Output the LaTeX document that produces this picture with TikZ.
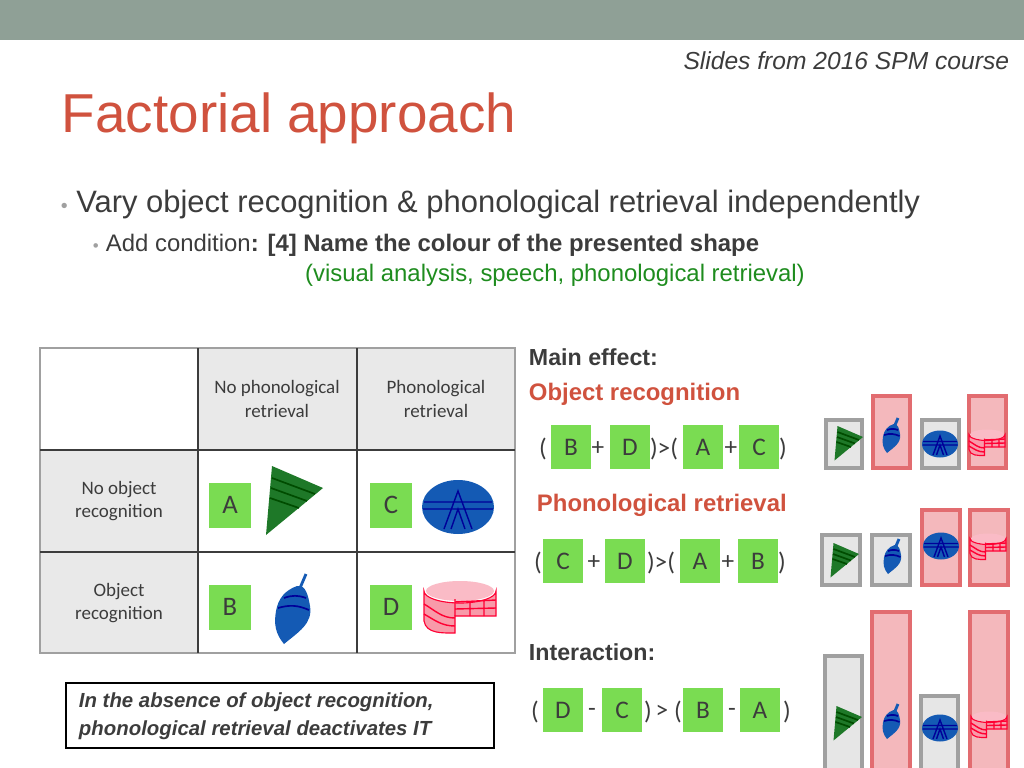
\documentclass[tikz,border=0pt]{standalone}
\usepackage{fontspec}
\setmainfont{Liberation Sans}
\newfontfamily\calfont{Carlito}
\usetikzlibrary{positioning}
\definecolor{barcol}{RGB}{143,160,150}
\definecolor{titlered}{RGB}{208,82,62}
\definecolor{textgray}{RGB}{60,60,60}
\definecolor{boxgreen}{RGB}{122,220,82}
\definecolor{greentext}{RGB}{30,140,30}
\definecolor{cellgray}{RGB}{233,233,233}
\definecolor{redbar}{RGB}{244,184,188}
\definecolor{redline}{RGB}{226,108,112}
\definecolor{graybar}{RGB}{230,230,230}
\definecolor{grayline}{RGB}{160,160,160}
\definecolor{shapegreen}{RGB}{30,120,40}
\definecolor{shapeblue}{RGB}{20,90,180}
\definecolor{cakepink}{RGB}{245,120,140}
\tikzset{
  letter box/.style={fill=boxgreen,minimum width=28pt,minimum height=31pt,inner sep=0pt,
    font=\calfont\fontsize{18}{18}\selectfont,text=textgray},
  table box/.style={letter box,minimum width=30pt,minimum height=32pt,font=\calfont\fontsize{19}{19}\selectfont},
  op/.style={font=\calfont\fontsize{18}{18}\selectfont,text=textgray,inner sep=0pt},
  head text/.style={font=\calfont\fontsize{13.5}{17}\selectfont,align=center,text=textgray},
  gray bar/.style={fill=graybar,draw=grayline,line width=2.2pt},
  red bar/.style={fill=redbar,draw=redline,line width=2.2pt},
  pics/tri/.style={code={
    \fill[shapegreen] (-21,-34) -- (30,-12) -- (-27,35) -- cycle;
    \draw[black!70!green,line width=1.2pt] (-21,-22) -- (22,-6) (-22,-12) -- (14,1) (-23,-2) -- (6,8);}},
  pics/top/.style={code={
    \fill[shapeblue] (-8,38) to[out=130,in=-100] (-16,5) to[out=80,in=200] (5,-20)
      to[out=10,in=100] (18,0) to[out=-80,in=40] cycle;
    \draw[shapeblue,line width=2pt] (8,-18) -- (14,-32);
    \draw[black!40!blue,line width=1.2pt] (-8,-8) to[bend left=20] (14,-8) (-14,2) to[bend left=20] (17,4);}},
  pics/oval/.style={code={
    \fill[shapeblue] (0,0) ellipse (36 and 27);
    \draw[black!40!blue,line width=1pt] (-14,22) -- (0,-16) -- (14,22) (-7,22) -- (0,2) -- (7,22)
      (-34,-5) -- (34,-5) (-35,2) -- (35,2);}},
  pics/cake/.style={code={
    \fill[cakepink!75,draw=red!80!magenta,line width=0.8pt] (-36,-15) -- (-36,15)
      to[out=-80,in=180] (-5,27) -- (-5,10) -- (36,10) -- (36,-15)
      arc[start angle=0,end angle=180,x radius=36,y radius=12] -- cycle;
    \fill[cakepink!50] (0,-15) ellipse (34 and 10);
    \draw[red!80!magenta,line width=1pt] (-36,-2) to[out=-30,in=180] (-5,12) (-36,8) to[out=-30,in=180] (-5,20)
      (-5,-4) -- (36,-6) (-5,3) -- (36,2) (-5,-7) -- (-5,10) (10,-5) -- (10,10) (24,-5) -- (24,10);}}
}
\begin{document}
\begin{tikzpicture}[x=0.025cm,y=-0.025cm]
\useasboundingbox (0,0) rectangle (1024,768);
\fill[barcol] (0,0) rectangle (1024,40);
\node[anchor=east,font=\itshape\fontsize{17.5}{20}\selectfont,text=textgray] (credit) at (1014,61) {Slides from 2016 SPM course};
\node[anchor=west,font=\fontsize{39}{44}\selectfont,text=titlered] (title) at (57,118) {Factorial approach};
\node[anchor=west,font=\fontsize{22}{24}\selectfont,text=textgray] (bullet1) at (56,205)
  {\textcolor{grayline}{\fontsize{14}{14}\selectfont\textbullet}\hspace{6pt}Vary object recognition \& phonological retrieval independently};
\node[anchor=west,font=\fontsize{17}{20}\selectfont,text=textgray] (bullet2) at (88,245)
  {\textcolor{grayline}{\fontsize{12}{12}\selectfont\textbullet}\hspace{5pt}Add condition\textbf{: [4] Name the colour of the presented shape}};
\node[font=\fontsize{17}{20}\selectfont,text=greentext] (green) at (555,275) {(visual analysis, speech, phonological retrieval)};
% table
\fill[cellgray] (198,348) rectangle (515,450);
\fill[cellgray] (40,450) rectangle (198,653);
\draw[grayline,line width=1pt] (40,348) rectangle (515,653);
\draw[textgray,line width=1.2pt] (198,348) -- (198,653) (357,348) -- (357,653)
  (40,450) -- (515,450) (40,552) -- (515,552);
\node[head text] (h1) at (277,399) {No phonological\\retrieval};
\node[head text] (h2) at (436,399) {Phonological\\retrieval};
\node[head text] (r1) at (119,501) {No object\\recognition};
\node[head text] (r2) at (119,603) {Object\\recognition};
\node[table box] (tA) at (230,505) {A};
\node[table box] (tC) at (391,505) {C};
\node[table box] (tB) at (230,607) {B};
\node[table box] (tD) at (391,607) {D};
\pic at (293,500) {tri};
\pic at (458,507) {oval};
\pic at (292,606) {top};
\pic at (460,606) {cake};
% note box
\draw[line width=1.5pt] (66,683) rectangle (494,748);
\node[anchor=west,align=left,font=\bfseries\itshape\fontsize{14.5}{20}\selectfont,text=textgray] (note) at (74,716)
  {In the absence of object recognition,\\phonological retrieval deactivates IT};
% right side
\node[anchor=west,font=\bfseries\fontsize{16.5}{20}\selectfont,text=textgray] (main) at (524,357) {Main effect:};
\node[anchor=west,font=\bfseries\fontsize{17}{20}\selectfont,text=titlered] (objrec) at (524,394) {Object recognition};
\node[anchor=west,font=\bfseries\fontsize{17}{20}\selectfont,text=titlered] (phonret) at (532,505) {Phonological retrieval};
\node[anchor=west,font=\bfseries\fontsize{16.5}{20}\selectfont,text=textgray] (inter) at (524,652) {Interaction:};
% equations
\foreach \t/\x in {B/571,D/630,A/703,C/759} \node[letter box] (e1\t) at (\x,447) {\t};
\foreach \t/\x in {{(}/543,{+}/598,{)>(}/664,{+}/731,{)}/783} \node[op] at (\x,449) {\t};
\foreach \t/\x in {C/563,D/625,A/700,B/758} \node[letter box] (e2\t) at (\x,561) {\t};
\foreach \t/\x in {{(}/538,{+}/594,{)>(}/661,{+}/728,{)}/782} \node[op] at (\x,563) {\t};
\foreach \t/\x in {D/563,C/622,B/703,A/760} \node[letter box] (e3\t) at (\x,710) {\t};
\foreach \t/\x in {{(}/535,{-}/592,{)}/648,{>}/662,{(}/678,{-}/732,{)}/787} \node[op] at (\x,712) {\t};
% bars
\draw[gray bar] (826,420) rectangle (862,468);
\draw[red bar] (873,396) rectangle (910,468);
\draw[gray bar] (922,420) rectangle (959,468);
\draw[red bar] (969,396) rectangle (1006,468);
\pic[scale=0.5] at (848,443) {tri};
\pic[scale=0.5] at (891,434) {top};
\pic[scale=0.5] at (940,444) {oval};
\pic[scale=0.5] at (987,442) {cake};
\draw[gray bar] (822,535) rectangle (860,585);
\draw[gray bar] (872,535) rectangle (910,585);
\draw[red bar] (922,510) rectangle (960,585);
\draw[red bar] (970,510) rectangle (1008,585);
\pic[scale=0.5] at (844,560) {tri};
\pic[scale=0.5] at (892,555) {top};
\pic[scale=0.5] at (941,546) {oval};
\pic[scale=0.5] at (988,546) {cake};
\draw[gray bar] (825,656) rectangle (862,775);
\draw[red bar] (872,612) rectangle (910,775);
\draw[gray bar] (921,696) rectangle (958,775);
\draw[red bar] (970,612) rectangle (1008,775);
\pic[scale=0.5] at (847,723) {tri};
\pic[scale=0.5] at (891,720) {top};
\pic[scale=0.5] at (940,728) {oval};
\pic[scale=0.5] at (989,724) {cake};
\end{tikzpicture}
\end{document}
